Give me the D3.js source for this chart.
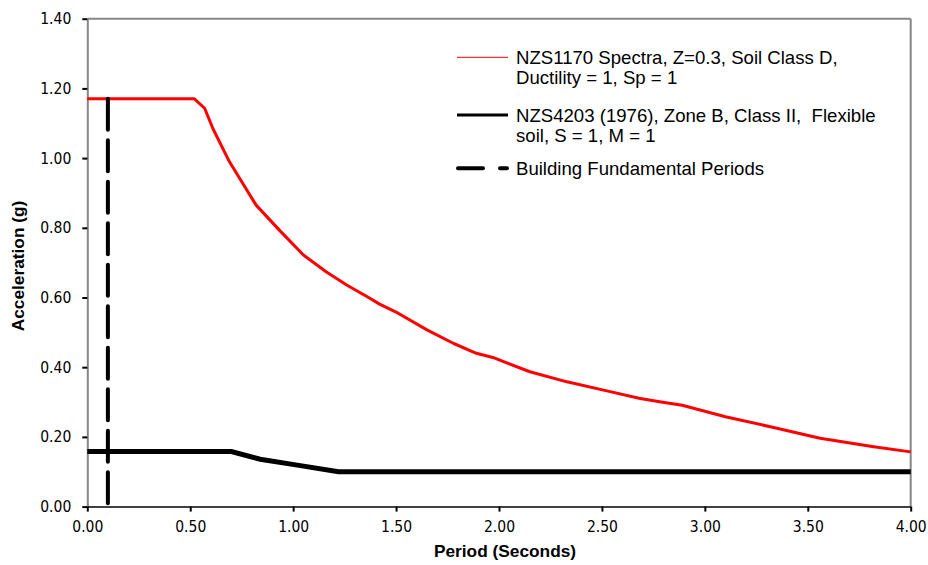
<!DOCTYPE html>
<html>
<head>
<meta charset="utf-8">
<script src="https://cdn.jsdelivr.net/npm/d3@7"></script>
<style>
  body { margin: 0; background: #fff; }
  svg { display: block; }
  .tick text { font-family: "DejaVu Sans Condensed", "DejaVu Sans", sans-serif; font-size: 15.5px; fill: #000; }
  .legend text { font-family: "Liberation Sans", Arial, sans-serif; font-size: 18.6px; fill: #000; white-space: pre; }
  .title { font-family: "Liberation Sans", Arial, sans-serif; font-size: 17.3px; font-weight: bold; fill: #000; }
</style>
</head>
<body>
<div id="container"></div>
<script>
// NZS1170 spectrum (red)
const nzs1170Period = [0, 0.52, 0.57, 0.61, 0.69, 0.76, 0.82, 0.94, 1.05, 1.16, 1.26, 1.36, 1.42, 1.51, 1.65, 1.78, 1.89, 1.97, 2.15, 2.33, 2.54, 2.68, 2.78, 2.89, 3.10, 3.35, 3.56, 3.82, 4.0];
const nzs1170Accel = [1.17, 1.17, 1.143, 1.085, 0.99, 0.923, 0.865, 0.789, 0.722, 0.674, 0.636, 0.602, 0.581, 0.555, 0.507, 0.468, 0.44, 0.428, 0.387, 0.358, 0.33, 0.311, 0.301, 0.291, 0.258, 0.225, 0.196, 0.172, 0.157];

// NZS4203 (1976) coefficient (black)
const nzs4203Period = [0, 0.7, 0.84, 1.02, 1.22, 4.0];
const nzs4203Accel = [0.158, 0.158, 0.136, 0.119, 0.10, 0.10];

// building fundamental period (dashed)
const buildingPeriod = [0.1, 0.1];
const buildingAccel = [1.17, 0];

const xTicks = [0, 0.5, 1, 1.5, 2, 2.5, 3, 3.5, 4];
const yTicks = [0, 0.2, 0.4, 0.6, 0.8, 1.0, 1.2, 1.4];

const legendItems = [
  { lines: ['NZS1170 Spectra, Z=0.3, Soil Class D,', 'Ductility = 1, Sp = 1'], color: 'red', width: 1, dash: null },
  { lines: ['NZS4203 (1976), Zone B, Class II,  Flexible', 'soil, S = 1, M = 1'], color: 'black', width: 3, dash: null },
  { lines: ['Building Fundamental Periods'], color: 'black', width: 4, dash: '25,17' }
];

const w = 928;
const h = 565;

const svg = d3.select('#container')
  .append('svg')
  .attr('width', w)
  .attr('height', h);

const xScale = d3.scaleLinear().domain([0, 4]).range([87.3, 910.7]);
const yScale = d3.scaleLinear().domain([0, 1.4]).range([506.6, 18.7]);

// plot frame (top and right)
svg.append('line')
  .attr('x1', xScale(0)).attr('x2', xScale(4))
  .attr('y1', yScale(1.4)).attr('y2', yScale(1.4))
  .attr('stroke', '#868686').attr('stroke-width', 2);
svg.append('line')
  .attr('x1', xScale(4)).attr('x2', xScale(4))
  .attr('y1', yScale(1.4)).attr('y2', yScale(0))
  .attr('stroke', '#868686').attr('stroke-width', 2);

const fmt = d3.format('.2f');

const yAxis = d3.axisLeft(yScale).tickValues(yTicks).tickFormat(fmt).tickSize(5).tickSizeOuter(0).tickPadding(11);
const gy = svg.append('g')
  .attr('transform', `translate(${xScale(0)},0)`)
  .call(yAxis);
gy.select('.domain').attr('stroke', '#868686').attr('stroke-width', 2);
gy.selectAll('.tick line').attr('stroke', '#000').attr('stroke-width', 2);

const xAxis = d3.axisBottom(xScale).tickValues(xTicks).tickFormat(fmt).tickSize(5).tickSizeOuter(0).tickPadding(9);
const gx = svg.append('g')
  .attr('transform', `translate(0,${yScale(0)})`)
  .call(xAxis);
gx.select('.domain').attr('stroke', '#000').attr('stroke-width', 1.5);
gx.selectAll('.tick line').attr('stroke', '#000').attr('stroke-width', 2);

const line = d3.line()
  .x(d => xScale(d[0]))
  .y(d => yScale(d[1]));

svg.append('path')
  .datum(nzs4203Period.map((p, i) => [p, nzs4203Accel[i]]))
  .attr('d', line)
  .attr('fill', 'none')
  .attr('stroke', '#000')
  .attr('stroke-width', 5);

svg.append('path')
  .datum(nzs1170Period.map((p, i) => [p, nzs1170Accel[i]]))
  .attr('d', line)
  .attr('fill', 'none')
  .attr('stroke', '#ff0000')
  .attr('stroke-width', 3)
  .attr('stroke-linejoin', 'round');

svg.append('path')
  .datum(buildingPeriod.map((p, i) => [p, buildingAccel[i]]))
  .attr('d', line)
  .attr('fill', 'none')
  .attr('stroke', '#000')
  .attr('stroke-width', 4)
  .attr('stroke-linecap', 'round')
  .attr('stroke-dasharray', '31,10.5');

// legend
const legendY = [57.3, 115, 168.3];
const legend = svg.selectAll('.legend')
  .data(legendItems)
  .enter()
  .append('g')
  .attr('class', 'legend')
  .attr('transform', (d, i) => `translate(0,${legendY[i]})`);

legend.append('line')
  .attr('x1', d => d.dash ? 458 : 457)
  .attr('x2', d => d.dash ? 507 : 508)
  .attr('stroke', d => d.color)
  .attr('stroke-width', d => d.width)
  .attr('stroke-linecap', d => d.dash ? 'round' : 'butt')
  .attr('stroke-dasharray', d => d.dash);

legend.selectAll('text')
  .data(d => d.lines)
  .enter()
  .append('text')
  .attr('x', 516)
  .attr('y', (d, i) => 6.5 + i * 20)
  .text(d => d);

// axis titles
svg.append('text')
  .attr('class', 'title')
  .attr('transform', 'translate(24,266) rotate(-90)')
  .attr('text-anchor', 'middle')
  .text('Acceleration (g)');

svg.append('text')
  .attr('class', 'title')
  .attr('x', 505)
  .attr('y', 557)
  .attr('text-anchor', 'middle')
  .text('Period (Seconds)');
</script>
</body>
</html>
